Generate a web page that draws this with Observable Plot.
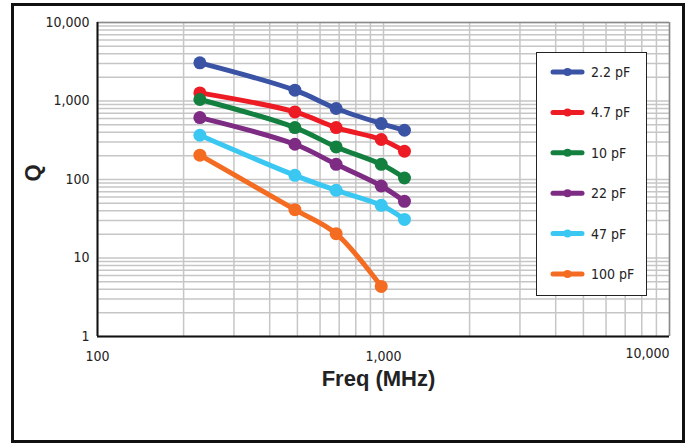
<!DOCTYPE html>
<html>
<head>
<meta charset="utf-8">
<script src="https://cdn.jsdelivr.net/npm/d3@7"></script>
<script src="https://cdn.jsdelivr.net/npm/@observablehq/plot@0.6"></script>
<style>
  html, body { margin: 0; padding: 0; background: white; }
  #wrap { position: relative; width: 688px; height: 444px; overflow: hidden;
          font-family: "DejaVu Sans Condensed", "DejaVu Sans", sans-serif; }
  #frame { position: absolute; left: 11px; top: 3px; width: 674px; height: 440px;
           border: 3px solid #111; box-sizing: border-box; pointer-events: none; }
  #legend { position: absolute; left: 536px; top: 52px; }
</style>
</head>
<body>
<div id="wrap"><div id="chart"></div><div id="legend"></div><div id="frame"></div></div>
<script>
const freqMHz = [228, 490, 683, 982, 1184];
const seriesNames = ["2.2 pF", "4.7 pF", "10 pF", "22 pF", "47 pF", "100 pF"];
const seriesColors = ["#3a53a4", "#ed1c24", "#138040", "#7d2b83", "#3ac8f2", "#f36c21"];
const q_2p2 = [3062, 1373, 802, 516, 424];
const q_4p7 = [1268, 726, 459, 323, 229];
const q_10 = [1045, 459, 260, 156, 104.5];
const q_22 = [615, 281, 156, 82.6, 52.7];
const q_47 = [366, 113, 72.8, 46.9, 31];
const q_100 = [204, 41.3, 20.4, 4.34];
const xTickLabels = [100, 1000, 10000];
const yTickLabels = [1, 10, 100, 1000, 10000];

const seriesQ = [q_2p2, q_4p7, q_10, q_22, q_47, q_100];
const rows = [];
seriesQ.forEach((qs, i) => qs.forEach((q, j) => rows.push({series: seriesNames[i], f: freqMHz[j], q})));

function logGrid(lo, hi) {
  const out = [];
  for (let d = lo; d < hi; d *= 10) for (let k = 1; k < 10; k++) out.push(d * k);
  out.push(hi);
  return out;
}
const xGrid = logGrid(100, 10000);
const yGrid = logGrid(1, 10000);
const fmt = d3.format(",");
const font = '"DejaVu Sans Condensed", "DejaVu Sans", sans-serif';
const titleFont = '"Liberation Sans", Arial, sans-serif';

const chart = Plot.plot({
  width: 688, height: 444,
  marginLeft: 97, marginRight: 19, marginTop: 22, marginBottom: 108,
  style: {fontFamily: font, fontSize: "14px", color: "#222", background: "white"},
  x: {type: "log", domain: [100, 10000]},
  y: {type: "log", domain: [1, 10000]},
  color: {domain: seriesNames, range: seriesColors},
  marks: [
    Plot.ruleX(xGrid, {stroke: "#c6c6c6", strokeWidth: 1.5}),
    Plot.ruleY(yGrid, {stroke: "#c6c6c6", strokeWidth: 1.5}),
    Plot.ruleX([10000], {stroke: "#8a8a8a", strokeWidth: 1.5}),
    Plot.ruleY([10000], {stroke: "#8a8a8a", strokeWidth: 1.5}),
    Plot.ruleX([100], {stroke: "#111", strokeWidth: 2}),
    Plot.ruleY([1], {stroke: "#111", strokeWidth: 2}),
    Plot.line(rows, {x: "f", y: "q", z: "series", stroke: "series", strokeWidth: 5, curve: "catmull-rom"}),
    Plot.dot(rows, {x: "f", y: "q", fill: "series", r: 6.5}),
    Plot.axisX({ticks: xTickLabels.slice(0, 2), tickFormat: fmt, tickSize: 0, tickPadding: 15, label: null, fontSize: 14}),
    Plot.text(xTickLabels.slice(2), {x: d => d, frameAnchor: "bottom", textAnchor: "end", dy: 21, text: d => fmt(d), fontSize: 14, fill: "#222"}),
    Plot.axisY({ticks: yTickLabels, tickFormat: fmt, tickSize: 0, tickPadding: 8, label: null, fontSize: 14}),
    Plot.text(["Freq (MHz)"], {frameAnchor: "bottom", dy: 49, dx: -5, fontSize: 22, fontWeight: "bold", fontFamily: titleFont, fill: "#222"}),
    Plot.text(["Q"], {frameAnchor: "left", dx: -65, dy: 2, rotate: -90, fontSize: 22, fontWeight: "bold", fontFamily: titleFont, fill: "#222"})
  ]
});
document.getElementById("chart").appendChild(chart);

// legend
const lg = d3.select("#legend").append("svg").attr("width", 112).attr("height", 245);
lg.append("rect").attr("x", 0.5).attr("y", 0.5).attr("width", 110).attr("height", 243)
  .attr("fill", "white").attr("stroke", "#222").attr("stroke-width", 1);
seriesNames.forEach((name, i) => {
  const cy = 20 + i * 40.4;
  lg.append("line").attr("x1", 17).attr("x2", 46).attr("y1", cy).attr("y2", cy)
    .attr("stroke", seriesColors[i]).attr("stroke-width", 5).attr("stroke-linecap", "round");
  lg.append("circle").attr("cx", 31.5).attr("cy", cy).attr("r", 4).attr("fill", seriesColors[i]);
  lg.append("text").attr("x", 55).attr("y", cy).attr("dy", "0.35em").attr("font-size", 14)
    .attr("font-family", font).attr("fill", "#222").text(name);
});
</script>
</body>
</html>
